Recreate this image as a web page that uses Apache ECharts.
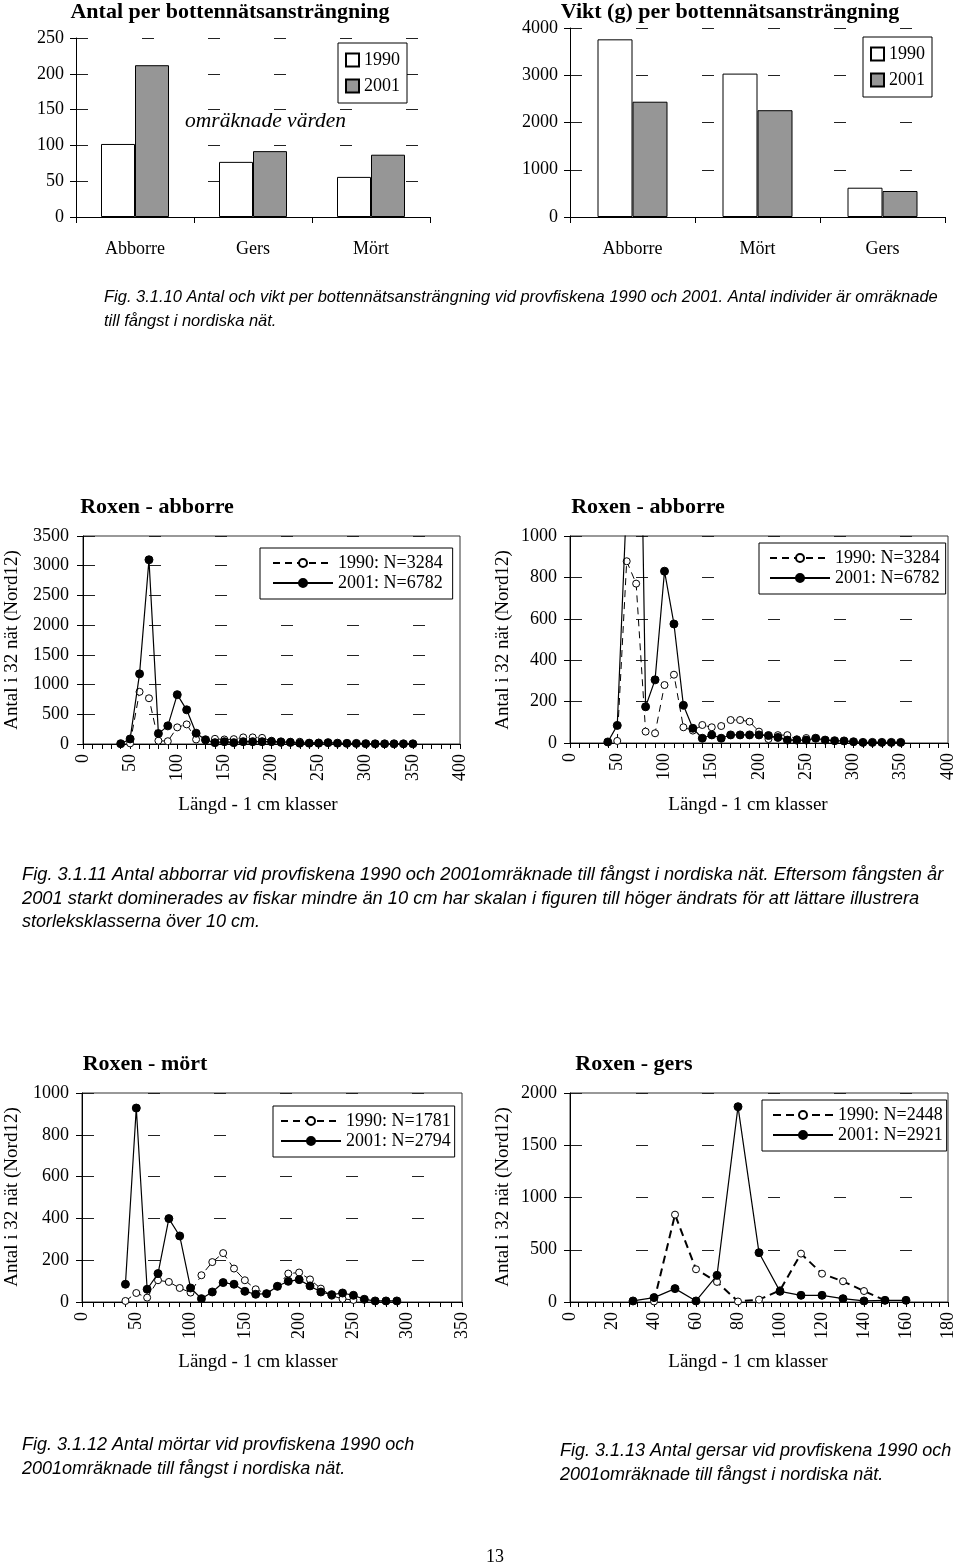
<!DOCTYPE html>
<html>
<head>
<meta charset="utf-8">
<script src="https://cdn.jsdelivr.net/npm/echarts@6/dist/echarts.min.js"></script>
<style>
html,body{margin:0;padding:0;background:#fff;}
#c{width:960px;height:1568px;}
</style>
</head>
<body>
<div id="c"></div>
<script>
// ---- Data ----
const antalCategories = ['Abborre', 'Gers', 'Mört'];
const antal1990 = [102, 77, 56];
const antal2001 = [212, 92, 87];

const viktCategories = ['Abborre', 'Mört', 'Gers'];
const vikt1990 = [3760, 3035, 620];
const vikt2001 = [2440, 2260, 550];

const abborreLen = [40, 50, 60, 70, 80, 90, 100, 110, 120, 130, 140, 150, 160, 170, 180, 190, 200, 210, 220, 230, 240, 250, 260, 270, 280, 290, 300, 310, 320, 330, 340, 350];
const abborre1990 = [null, 10, 878, 770, 55, 47, 280, 330, 76, 60, 87, 76, 82, 111, 111, 103, 55, 19, 38, 38, 18, 24, null, null, null, null, null, null, null, null, null, null];
const abborre2001 = [5, 85, 1180, 3100, 175, 305, 830, 575, 182, 71, 23, 39, 23, 39, 39, 39, 39, 36, 27, 14, 14, 14, 23, 14, 11, 10, 6, 3, 3, 3, 3, 3];

const mortLen = [40, 50, 60, 70, 80, 90, 100, 110, 120, 130, 140, 150, 160, 170, 180, 190, 200, 210, 220, 230, 240, 250, 260, 270, 280, 290];
const mort1990 = [5, 43, 21, 104, 96, 67, 45, 128, 191, 234, 160, 104, 61, 40, 75, 136, 141, 108, 64, 30, 15, 10, null, null, null, null];
const mort2001 = [85, 928, 61, 136, 399, 316, 67, 16, 48, 93, 85, 51, 37, 40, 75, 99, 107, 77, 48, 35, 43, 32, 13, 5, 5, 5];

const gersLen = [30, 40, 50, 60, 70, 80, 90, 100, 110, 120, 130, 140, 150, 160];
const gers1990 = [null, 5, 836, 313, 192, 5, 23, 112, 463, 271, 198, 105, 15, null];
const gers2001 = [10, 42, 128, 10, 255, 1869, 472, 102, 64, 64, 32, 10, 16, 16];

const abborreNames = ['1990: N=3284', '2001: N=6782'];
const mortNames = ['1990: N=1781', '2001: N=2794'];
const gersNames = ['1990: N=2448', '2001: N=2921'];

// ---- Helpers ----
const SERIF = '"Liberation Serif", "Times New Roman", serif';
const SANS = '"Liberation Sans", Arial, sans-serif';
function pairs(xs, ys) {
  return xs.map((x, i) => [x, ys[i]]).filter(p => p[1] !== null);
}
const plain = v => String(v);
const labelStyle = {color: '#000', fontFamily: SERIF, fontSize: 18, formatter: plain};
const dashedSplit = {show: true, lineStyle: {color: '#222', width: 1, type: [12, 54], dashOffset: 0}};

function catX(idx, cats) {
  return {
    type: 'category', gridIndex: idx, data: cats,
    axisLine: {lineStyle: {color: '#000', width: 1}},
    axisTick: {show: true, length: 6, lineStyle: {color: '#000'}},
    axisLabel: {margin: 23, color: '#000', fontFamily: SERIF, fontSize: 18},
    splitLine: {show: false}
  };
}
function valY(idx, max, interval, margin) {
  return {
    type: 'value', gridIndex: idx, min: 0, max: max, interval: interval,
    axisLine: {show: true, lineStyle: {color: '#000', width: 1}},
    axisTick: {show: true, length: 6, lineStyle: {color: '#000'}},
    axisLabel: Object.assign({margin: margin}, labelStyle),
    splitLine: dashedSplit
  };
}
function lenX(idx, max, interval, minorSplit) {
  return {
    type: 'value', gridIndex: idx, min: 0, max: max, interval: interval,
    axisLine: {show: true, onZero: false, lineStyle: {color: '#000', width: 1}},
    axisTick: {show: true, length: 5, lineStyle: {color: '#000'}},
    minorTick: {show: true, splitNumber: minorSplit, length: 5, lineStyle: {color: '#000'}},
    axisLabel: Object.assign({margin: 10, rotate: 90}, labelStyle),
    splitLine: {show: false}
  };
}
function line1990(name, idx, data, thick) {
  return {
    type: 'line', name: name, xAxisIndex: idx, yAxisIndex: idx, data: data,
    symbol: 'circle', symbolSize: 7, clip: true,
    lineStyle: {color: '#000', width: thick ? 2 : 1, type: thick ? [8, 5] : [7, 5]},
    itemStyle: {color: '#fff', borderColor: '#000', borderWidth: 1},
    z: 3
  };
}
function line2001(name, idx, data) {
  return {
    type: 'line', name: name, xAxisIndex: idx, yAxisIndex: idx, data: data,
    symbol: 'circle', symbolSize: 8, clip: true,
    lineStyle: {color: '#000', width: 1.2, type: 'solid'},
    itemStyle: {color: '#000', borderColor: '#000', borderWidth: 1},
    z: 4
  };
}
function barLegend(left, top) {
  return {
    data: ['1990', '2001'], orient: 'vertical', left: left, top: top,
    backgroundColor: '#fff', borderColor: '#000', borderWidth: 1,
    padding: [8, 7, 8, 7], itemGap: 8, itemWidth: 13, itemHeight: 13,
    icon: 'rect', textStyle: {color: '#000', fontFamily: SERIF, fontSize: 18},
    selectedMode: false
  };
}
function lineLegend(names, left, top, padL, padR) {
  return {
    data: names, orient: 'vertical', left: left, top: top,
    backgroundColor: '#fff', borderColor: '#000', borderWidth: 1,
    padding: [6, padR, 7, padL], itemGap: 2, itemWidth: 60, itemHeight: 10,
    textStyle: {color: '#000', fontFamily: SERIF, fontSize: 18},
    selectedMode: false
  };
}
function txt(text, x, y, font, align, rot) {
  return {
    type: 'text', x: x, y: y, rotation: rot || 0, silent: true,
    style: {text: text, font: font, fill: '#000',
      textAlign: align || 'left', textVerticalAlign: 'middle',
      align: align || 'left', verticalAlign: 'middle'}
  };
}

const titleFont = 'bold 22px ' + SERIF;
const capFont1 = 'italic 16.5px ' + SANS;
const capFont = 'italic 18px ' + SANS;
const capFontJ = 'italic 18.3px ' + SANS;
const axNameFont = '19px ' + SERIF;
const yName = 'Antal i 32 nät (Nord12)';
const xName = 'Längd - 1 cm klasser';

const option = {
  animation: false,
  backgroundColor: '#fff',
  grid: [
    {left: 76, top: 38, width: 354, height: 179},
    {left: 570, top: 28, width: 375, height: 189},
    {left: 83, top: 536, width: 377, height: 208, show: true, borderColor: '#333', borderWidth: 1},
    {left: 570, top: 536, width: 378, height: 207, show: true, borderColor: '#333', borderWidth: 1},
    {left: 82, top: 1093, width: 380, height: 209, show: true, borderColor: '#333', borderWidth: 1},
    {left: 570, top: 1093, width: 378, height: 209, show: true, borderColor: '#333', borderWidth: 1}
  ],
  xAxis: [
    catX(0, antalCategories),
    catX(1, viktCategories),
    lenX(2, 400, 50, 5),
    lenX(3, 400, 50, 5),
    lenX(4, 350, 50, 5),
    lenX(5, 180, 20, 5)
  ],
  yAxis: [
    valY(0, 250, 50, 12),
    valY(1, 4000, 1000, 12),
    valY(2, 3500, 500, 14),
    valY(3, 1000, 200, 13),
    valY(4, 1000, 200, 13),
    valY(5, 2000, 500, 13)
  ],
  legend: [
    barLegend(338, 43),
    barLegend(863, 37),
    lineLegend(abborreNames, 260, 548, 12, 10),
    lineLegend(abborreNames, 759, 543, 10, 6),
    lineLegend(mortNames, 273, 1106, 7, 4),
    lineLegend(gersNames, 762, 1100, 10, 4)
  ],
  series: [
    {type: 'bar', name: '1990', xAxisIndex: 0, yAxisIndex: 0, data: antal1990, barWidth: 34, barGap: '0%',
      itemStyle: {color: '#fff', borderColor: '#000', borderWidth: 1}},
    {type: 'bar', name: '2001', xAxisIndex: 0, yAxisIndex: 0, data: antal2001, barWidth: 34, barGap: '0%',
      itemStyle: {color: '#969696', borderColor: '#000', borderWidth: 1}},
    {type: 'bar', name: '1990', xAxisIndex: 1, yAxisIndex: 1, data: vikt1990, barWidth: 35, barGap: '0%',
      itemStyle: {color: '#fff', borderColor: '#000', borderWidth: 1}},
    {type: 'bar', name: '2001', xAxisIndex: 1, yAxisIndex: 1, data: vikt2001, barWidth: 35, barGap: '0%',
      itemStyle: {color: '#969696', borderColor: '#000', borderWidth: 1}},
    line1990(abborreNames[0], 2, pairs(abborreLen, abborre1990)),
    line2001(abborreNames[1], 2, pairs(abborreLen, abborre2001)),
    line1990(abborreNames[0], 3, pairs(abborreLen, abborre1990)),
    line2001(abborreNames[1], 3, pairs(abborreLen, abborre2001)),
    line1990(mortNames[0], 4, pairs(mortLen, mort1990)),
    line2001(mortNames[1], 4, pairs(mortLen, mort2001)),
    line1990(gersNames[0], 5, pairs(gersLen, gers1990), true),
    line2001(gersNames[1], 5, pairs(gersLen, gers2001))
  ],
  graphic: [
    txt('Antal per bottennätsansträngning', 230, 12, titleFont, 'center'),
    txt('Vikt (g) per bottennätsansträngning', 730, 12, titleFont, 'center'),
    txt('omräknade värden', 185, 121, 'italic 21.5px ' + SERIF, 'left'),
    txt('Fig. 3.1.10 Antal och vikt per bottennätsansträngning vid provfiskena 1990 och 2001. Antal individer är omräknade', 104, 297, capFont1),
    txt('till fångst i nordiska nät.', 104, 321, capFont1),

    txt('Roxen - abborre', 157, 507, titleFont, 'center'),
    txt('Roxen - abborre', 648, 507, titleFont, 'center'),
    txt(yName, 12, 640, axNameFont, 'center', Math.PI / 2),
    txt(yName, 503, 640, axNameFont, 'center', Math.PI / 2),
    txt(xName, 258, 805, axNameFont, 'center'),
    txt(xName, 748, 805, axNameFont, 'center'),
    txt('Fig. 3.1.11 Antal abborrar vid provfiskena 1990 och 2001omräknade till fångst i nordiska nät. Eftersom fångsten år', 22, 875, capFontJ),
    txt('2001 starkt dominerades av fiskar mindre än 10 cm har skalan i figuren till höger ändrats för att lättare illustrera', 22, 899, capFontJ),
    txt('storleksklasserna över 10 cm.', 22, 922, capFont),

    txt('Roxen - mört', 145, 1064, titleFont, 'center'),
    txt('Roxen - gers', 634, 1064, titleFont, 'center'),
    txt(yName, 12, 1197, axNameFont, 'center', Math.PI / 2),
    txt(yName, 503, 1197, axNameFont, 'center', Math.PI / 2),
    txt(xName, 258, 1362, axNameFont, 'center'),
    txt(xName, 748, 1362, axNameFont, 'center'),
    txt('Fig. 3.1.12 Antal mörtar vid provfiskena 1990 och', 22, 1445, capFont),
    txt('2001omräknade till fångst i nordiska nät.', 22, 1469, capFont),
    txt('Fig. 3.1.13 Antal gersar vid provfiskena 1990 och', 560, 1451, capFont),
    txt('2001omräknade till fångst i nordiska nät.', 560, 1475, capFont),
    txt('13', 495, 1557, '18px ' + SERIF, 'center')
  ]
};

const chart = echarts.init(document.getElementById('c'), null, {renderer: 'canvas'});
chart.setOption(option);
</script>
</body>
</html>
